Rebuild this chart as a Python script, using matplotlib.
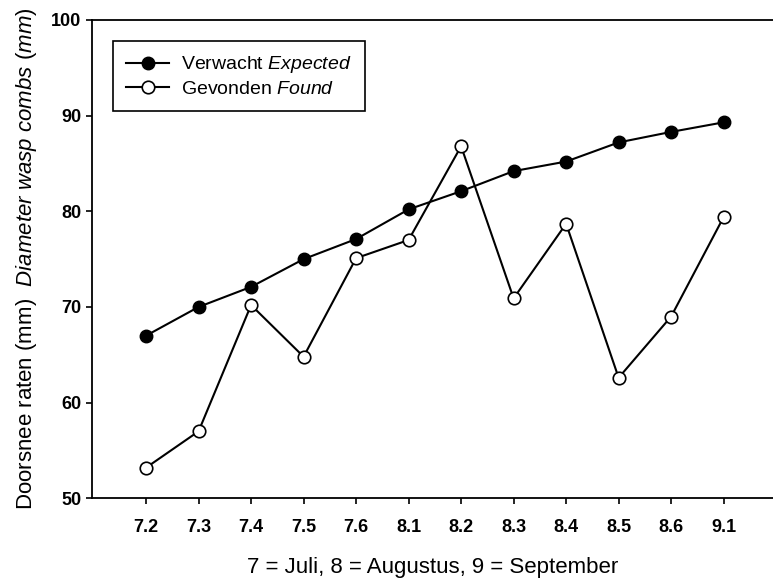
import matplotlib
matplotlib.use("Agg")
import matplotlib.pyplot as plt
import numpy as np

plt.rcParams['font.family'] = ['Liberation Sans', 'DejaVu Sans']
plt.rcParams['mathtext.fontset'] = 'custom'
plt.rcParams['mathtext.rm'] = 'Liberation Sans'
plt.rcParams['mathtext.it'] = 'Liberation Sans:italic'

months = ['7.2', '7.3', '7.4', '7.5', '7.6', '8.1', '8.2', '8.3', '8.4', '8.5', '8.6', '9.1']
expected = [67.0, 70.0, 72.1, 75.0, 77.1, 80.2, 82.1, 84.2, 85.2, 87.2, 88.3, 89.3]
found = [53.2, 57.0, 70.2, 64.8, 75.1, 77.0, 86.8, 70.9, 78.7, 62.6, 69.0, 79.4]

fig = plt.figure(figsize=(7.73, 5.79), dpi=100)
ax = fig.add_axes([0.119, 0.1394, 0.881, 0.8261])

x = np.arange(len(months))
ax.plot(x, expected, '-o', color='black', lw=1.5, ms=9,
        mfc='black', mec='black', label='Verwacht $\\mathit{Expected}$')
ax.plot(x, found, '-o', color='black', lw=1.5, ms=9,
        mfc='white', mec='black', mew=1.2, label='Gevonden $\\mathit{Found}$')

ax.set_xlim(-1.03, 11.94)
ax.set_ylim(50, 100)
ax.set_xticks(x)
ax.set_xticklabels(months)
ax.set_yticks([50, 60, 70, 80, 90, 100])
ax.tick_params(direction='out', length=4, width=1.2, labelsize=13, colors='black')
ax.tick_params(axis='x', pad=11)
for lab in ax.get_xticklabels() + ax.get_yticklabels():
    lab.set_fontweight('bold')
ax.spines['right'].set_visible(False)
for s in ['left', 'bottom', 'top']:
    ax.spines[s].set_linewidth(1.3)

ax.set_xlabel('7 = Juli, 8 = Augustus, 9 = September', fontsize=16, labelpad=15)
ax.set_ylabel('Doorsnee raten (mm)  $\\mathit{Diameter\\ wasp\\ combs\\ (mm)}$',
              fontsize=16, labelpad=9)

leg = ax.legend(loc='upper left', bbox_to_anchor=(0.016, 0.977), fontsize=14,
                fancybox=False, framealpha=1, edgecolor='black',
                handlelength=2.2, handletextpad=0.6, borderpad=0.7, labelspacing=0.25)
leg.get_frame().set_linewidth(1.2)

fig.savefig('out.png', dpi=100)
